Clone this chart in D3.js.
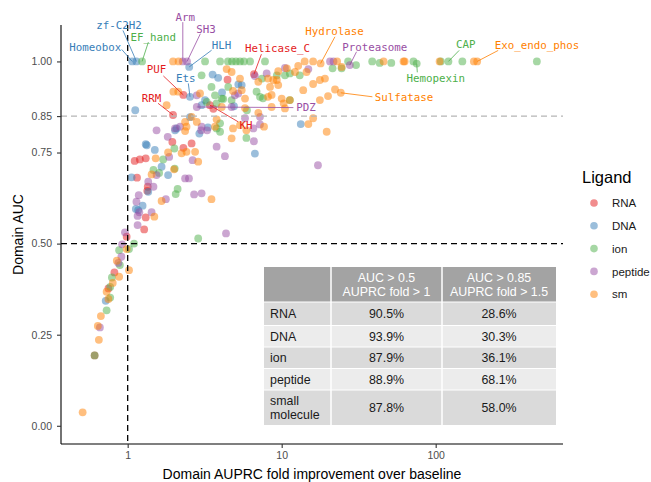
<!DOCTYPE html>
<html>
<head>
<meta charset="utf-8">
<script src="https://cdn.jsdelivr.net/npm/d3@7"></script>
<style>
  body { margin: 0; background: #fff; }
  svg { display: block; }
</style>
</head>
<body>
<svg id="chart" width="651" height="482"></svg>
<script>
// Ligand classes and their colours
const ligands = ["RNA", "DNA", "ion", "peptide", "sm"];
const ligandColors = ["#E41A1C", "#377EB8", "#4DAF4A", "#984EA3", "#FF7F00"];

// Each domain: [AUPRC fold improvement over baseline, domain AUC]
const rnaPoints = [
  [4.45, 0.95], [6.61, 0.965], [2.30, 0.908], [3.42, 0.88], [1.97, 0.853], [3.6, 0.87],
  [1.95, 0.779], [2.30, 0.763], [2.60, 0.775], [1.11, 0.727], [1.20, 0.731], [1.31, 0.734],
  [1.15, 0.681], [1.35, 0.656], [1.34, 0.645], [1.31, 0.572], [1.28, 0.539], [0.985, 0.519],
  [0.82, 0.421], [0.75, 0.377], [0.61, 0.193]
];
const dnaPoints = [
  [1.07, 1.0], [1.14, 1.0], [2.51, 0.985], [2.54, 0.903], [3.56, 0.964], [3.87, 0.955],
  [5.23, 0.937], [5.5, 0.935], [3.18, 0.894], [3.02, 0.880], [4.10, 0.915], [4.90, 0.877],
  [2.54, 0.847], [3.32, 0.819], [1.12, 0.866], [13.3, 0.828], [1.31, 0.773], [2.08, 0.816],
  [2.92, 0.802], [2.03, 0.811], [6.7, 0.747], [1.33, 0.770], [1.50, 0.757], [1.66, 0.711],
  [1.83, 0.688], [1.06, 0.682], [1.36, 0.642], [1.17, 0.592], [1.25, 0.604], [1.13, 0.595],
  [0.72, 0.343]
];
const ionPoints = [
  [1.24, 1.0], [3.18, 1.0], [3.98, 1.0], [4.48, 1.0], [4.76, 1.0], [5.05, 1.0], [5.36, 1.0],
  [5.69, 1.0], [6.23, 1.0], [7.79, 1.0], [27.0, 1.0], [30.4, 0.99], [21.4, 0.981], [24.5, 0.981],
  [38.7, 1.0], [43.3, 0.996], [51.5, 0.996], [71.7, 1.0], [75.3, 0.994], [108, 1.0], [121, 1.0],
  [149, 1.0], [454, 1.0], [11.3, 0.967], [10.5, 0.962], [9.3, 0.962], [13.1, 0.962], [7.45, 0.953],
  [3.02, 0.962], [3.50, 0.930], [4.50, 0.930], [4.17, 0.897], [4.73, 0.894], [3.26, 0.889],
  [3.78, 0.885], [4.08, 0.898], [6.87, 0.917], [7.23, 0.903], [7.56, 0.899], [11.3, 0.894],
  [5.95, 0.866], [3.98, 0.830], [3.98, 0.807], [5.9, 0.790], [2.01, 0.761], [1.70, 0.731],
  [1.47, 0.702], [1.60, 0.694], [2.02, 0.706], [2.11, 0.650], [2.05, 0.636], [2.87, 0.514],
  [1.10, 0.50], [1.02, 0.485], [0.88, 0.482], [0.89, 0.441], [0.79, 0.407], [0.77, 0.381],
  [0.77, 0.352], [0.73, 0.317], [0.61, 0.193], [3.69, 0.907], [3.78, 0.816]
];
const peptidePoints = [
  [2.28, 1.0], [2.43, 1.0], [20.6, 1.0], [21.7, 1.0], [27.7, 0.99], [10.5, 0.982], [14.9, 0.979],
  [6.7, 0.960], [7.99, 0.967], [2.81, 0.875], [2.81, 0.907], [4.97, 0.907], [5.22, 0.912],
  [4.73, 0.875], [5.78, 0.844], [7.23, 0.827], [7.23, 0.848], [3.02, 0.821], [2.03, 0.816],
  [1.54, 0.811], [1.82, 0.793], [2.19, 0.821], [3.0, 0.811], [3.28, 0.811], [6.6, 0.781],
  [3.78, 0.766], [4.28, 0.740], [2.64, 0.729], [1.86, 0.738], [1.54, 0.688], [1.36, 0.670],
  [1.47, 0.656], [2.36, 0.679], [2.50, 0.679], [2.70, 0.635], [3.02, 0.638], [1.77, 0.622],
  [1.18, 0.633], [1.14, 0.615], [1.19, 0.586], [1.43, 0.586], [1.16, 0.576], [1.16, 0.551],
  [4.35, 0.528], [17.2, 0.715], [0.96, 0.531], [0.92, 0.498], [0.91, 0.464], [0.87, 0.447],
  [0.66, 0.270], [6.55, 0.816]
];
const smPoints = [
  [1.97, 1.0], [2.14, 1.0], [14.1, 1.0], [16.0, 1.0], [22.9, 1.0], [24.5, 0.985], [45.9, 1.0],
  [61.8, 1.0], [62.9, 1.0], [106, 1.0], [177, 1.0], [186, 1.0], [17.9, 0.9945], [12.8, 0.988],
  [14.5, 0.971], [9.5, 0.973], [12.2, 0.971], [10.8, 0.981], [4.39, 0.979], [4.73, 0.971],
  [5.36, 0.953], [7.05, 0.944], [8.15, 0.953], [9.3, 0.949], [8.83, 0.949], [9.5, 0.935],
  [8.6, 0.908], [10.0, 0.898], [10.3, 0.885], [10.5, 0.871], [24.2, 0.914], [22.2, 0.923],
  [20.0, 0.905], [17.7, 0.894], [13.8, 0.921], [16.0, 0.938], [17.7, 0.949], [19.1, 0.953],
  [14.9, 0.828], [16.0, 0.844], [19.6, 0.807], [1.98, 0.917], [2.95, 0.912], [5.5, 0.921],
  [5.78, 0.898], [4.08, 0.875], [8.6, 0.875], [1.79, 0.880], [2.60, 0.848], [2.81, 0.834],
  [3.69, 0.821], [5.36, 0.825], [2.36, 0.834], [2.36, 0.809], [2.41, 0.821], [4.73, 0.789],
  [7.68, 0.821], [1.83, 0.750], [2.24, 0.748], [2.41, 0.752], [2.74, 0.752], [2.87, 0.725],
  [1.52, 0.734], [1.43, 0.690], [2.0, 0.704], [3.50, 0.622], [1.66, 0.617], [1.49, 0.574],
  [0.985, 0.485], [0.85, 0.453], [1.02, 0.427], [0.88, 0.409], [0.80, 0.392], [0.73, 0.368],
  [0.75, 0.348], [0.67, 0.301], [0.64, 0.274], [0.65, 0.236], [0.51, 0.037],
  [5.78, 0.872], [8.15, 0.903], [11.3, 0.894], [4.83, 0.919], [8.4, 0.930], [5.9, 0.811],
  [7.05, 0.859], [4.83, 0.816], [3.78, 0.841], [2.13, 0.917]
];
const seriesPoints = [rnaPoints, dnaPoints, ionPoints, peptidePoints, smPoints];

// Named domains: [name, ligand, fold, AUC]
const labelledDomains = [
  ["Homeobox", "DNA", 1.07, 1.0], ["zf-C2H2", "DNA", 1.14, 1.0], ["EF_hand", "ion", 1.24, 1.0],
  ["Arm", "peptide", 2.28, 1.0], ["SH3", "peptide", 2.43, 1.0], ["HLH", "DNA", 2.51, 0.985],
  ["Helicase_C", "RNA", 6.61, 0.965], ["PUF", "RNA", 2.30, 0.908], ["Ets", "DNA", 2.54, 0.903],
  ["RRM", "RNA", 1.97, 0.853], ["KH", "RNA", 3.42, 0.88], ["PDZ", "peptide", 2.81, 0.875],
  ["Hydrolase", "sm", 17.9, 0.9945], ["Proteasome", "peptide", 27.7, 0.99], ["CAP", "ion", 121, 1.0],
  ["Exo_endo_phos", "sm", 186, 1.0], ["Hemopexin", "ion", 75.3, 0.994], ["Sulfatase", "sm", 24.2, 0.914]
];

const xTicks = [1, 10, 100];
const yTicks = [0, 0.25, 0.5, 0.75, 0.85, 1];
const aucCutoffs = [0.5, 0.85];
const foldCutoff = 1;

const tableHeader = ["", "AUC > 0.5\nAUPRC fold > 1", "AUC > 0.85\nAUPRC fold > 1.5"];
const tableRows = [
  ["RNA", "90.5%", "28.6%"],
  ["DNA", "93.9%", "30.3%"],
  ["ion", "87.9%", "36.1%"],
  ["peptide", "88.9%", "68.1%"],
  ["small\nmolecule", "87.8%", "58.0%"]
];

// ---- layout ----
const svg = d3.select("#chart");
const panel = { left: 61, right: 563, top: 25, bottom: 444 };
const x = d3.scaleLog().domain([0.369, 671]).range([panel.left, panel.right]);
const y = d3.scaleLinear().domain([-0.05, 1.10]).range([panel.bottom, panel.top]);
const color = d3.scaleOrdinal().domain(ligands).range(ligandColors);
const sansFont = "'Liberation Sans', Arial, sans-serif";
const monoFont = "'DejaVu Sans Mono', monospace";

// Points
const pts = svg.append("g");
ligands.forEach((lig, i) => {
  pts.selectAll(null)
    .data(seriesPoints[i])
    .join("circle")
    .attr("cx", d => x(d[0]))
    .attr("cy", d => y(d[1]))
    .attr("r", 3.9)
    .attr("fill", color(lig))
    .attr("fill-opacity", 0.5);
});

// Reference lines
svg.append("line")
  .attr("x1", panel.left).attr("x2", panel.right)
  .attr("y1", y(aucCutoffs[1])).attr("y2", y(aucCutoffs[1]))
  .attr("stroke", "#b5b5b5").attr("stroke-width", 1.3).attr("stroke-dasharray", "6,4");
svg.append("line")
  .attr("x1", panel.left).attr("x2", panel.right)
  .attr("y1", y(aucCutoffs[0])).attr("y2", y(aucCutoffs[0]))
  .attr("stroke", "#000").attr("stroke-width", 1.3).attr("stroke-dasharray", "6,4");
svg.append("line")
  .attr("x1", x(foldCutoff)).attr("x2", x(foldCutoff))
  .attr("y1", panel.top).attr("y2", panel.bottom)
  .attr("stroke", "#000").attr("stroke-width", 1.3).attr("stroke-dasharray", "6,4");

// Repelled labels: text centre and segment end, relative to the point
const labelNudge = {
  "Homeobox": [-37, -14.5, -10.5, -12],
  "zf-C2H2": [-17.5, -36, -13.5, -31],
  "EF_hand": [11.3, -24.3, 6.3, -19.3],
  "Arm": [2.5, -44.3, 0, -39.3],
  "SH3": [19, -32.7, 13.3, -27.7],
  "HLH": [32.4, -21.7, 22.4, -16.7],
  "Helicase_C": [23.5, -25.7, 7.4, -20],
  "PUF": [-27, -26, -20, -19],
  "Ets": [-4.2, -18.4, -1.7, -13.4],
  "RRM": [-21.6, -16.7, -15, -11.7],
  "KH": [36, 20, 28.3, 16.7],
  "PDZ": [109.3, 0.6, 96.6, 0.6],
  "Hydrolase": [13.8, -32.6, 14.3, -26.6],
  "Proteasome": [25, -18.3, 6.7, -13.3],
  "CAP": [17.4, -17.7, 10.7, -11],
  "Exo_endo_phos": [59.7, -16, 21, -11],
  "Hemopexin": [19.1, 14.3, 0.6, 8.7],
  "Sulfatase": [63.3, 4.6, 31.6, 4]
};
const lab = svg.append("g");
labelledDomains.forEach(([name, lig, fx, fy]) => {
  const px = x(fx), py = y(fy);
  const [tx, ty, sx, sy] = labelNudge[name];
  lab.append("line")
    .attr("x1", px).attr("y1", py)
    .attr("x2", px + sx).attr("y2", py + sy)
    .attr("stroke", color(lig)).attr("stroke-width", 0.8);
  lab.append("text")
    .attr("x", px + tx).attr("y", py + ty)
    .attr("dy", "0.36em")
    .attr("text-anchor", "middle")
    .attr("font-family", monoFont)
    .attr("font-size", 10.8)
    .attr("fill", color(lig))
    .text(name);
});

// Axes
const yAxis = svg.append("g")
  .attr("transform", `translate(${panel.left},0)`)
  .call(d3.axisLeft(y).tickValues(yTicks).tickFormat(d3.format(".2f")).tickSize(4).tickSizeOuter(0).tickPadding(5));
const xAxis = svg.append("g")
  .attr("transform", `translate(0,${panel.bottom})`)
  .call(d3.axisBottom(x).tickValues(xTicks).tickFormat(d3.format("d")).tickSize(4).tickSizeOuter(0).tickPadding(4));
[xAxis, yAxis].forEach(ax => {
  ax.select(".domain").attr("stroke", "#000").attr("stroke-width", 1.1);
  ax.selectAll(".tick line").attr("stroke", "#333").attr("stroke-width", 1.1);
  ax.selectAll(".tick text").attr("fill", "#4d4d4d").attr("font-size", 10.5).attr("font-family", sansFont);
});
yAxis.select(".domain").attr("d", `M0,${panel.top}V${panel.bottom}`);
xAxis.select(".domain").attr("d", `M${panel.left},0H${panel.right}`);

svg.append("text")
  .attr("transform", `translate(18,${(panel.top + panel.bottom) / 2}) rotate(-90)`)
  .attr("text-anchor", "middle").attr("dy", "0.36em")
  .attr("font-family", sansFont).attr("font-size", 14).attr("fill", "#000")
  .text("Domain AUC");
svg.append("text")
  .attr("x", (panel.left + panel.right) / 2).attr("y", 474)
  .attr("text-anchor", "middle").attr("dy", "0.36em")
  .attr("font-family", sansFont).attr("font-size", 14).attr("fill", "#000")
  .text("Domain AUPRC fold improvement over baseline");

// Legend
const legend = svg.append("g").attr("transform", "translate(582,0)");
legend.append("text")
  .attr("x", 0).attr("y", 177).attr("dy", "0.36em")
  .attr("font-family", sansFont).attr("font-size", 16.5).attr("fill", "#000")
  .text("Ligand");
ligands.forEach((lig, i) => {
  const ly = 203 + i * 22.8;
  legend.append("circle")
    .attr("cx", 12).attr("cy", ly).attr("r", 3.8)
    .attr("fill", color(lig)).attr("fill-opacity", 0.5);
  legend.append("text")
    .attr("x", 30).attr("y", ly).attr("dy", "0.36em")
    .attr("font-family", sansFont).attr("font-size", 11.5).attr("fill", "#1a1a1a")
    .text(lig);
});

// Summary table
const colEdges = [264, 331, 442, 556];
const rowEdges = [267, 302, 325.5, 347, 368.5, 390, 425];
const rowFills = ["#a3a3a3", "#dadada", "#ececec", "#dadada", "#ececec", "#dadada"];
const table = svg.append("g");
const allRows = [tableHeader].concat(tableRows);
allRows.forEach((row, r) => {
  const y0 = rowEdges[r], y1 = rowEdges[r + 1];
  row.forEach((cell, c) => {
    const x0 = colEdges[c], x1 = colEdges[c + 1];
    table.append("rect")
      .attr("x", x0).attr("y", y0)
      .attr("width", x1 - x0).attr("height", y1 - y0)
      .attr("fill", rowFills[r]);
    const lines = cell.split("\n");
    const lh = 13.5;
    const cy = (y0 + y1) / 2 - (lines.length - 1) * lh / 2;
    const tx = c === 0 ? x0 + 6 : (x0 + x1) / 2;
    lines.forEach((ln, k) => {
      table.append("text")
        .attr("x", tx).attr("y", cy + k * lh).attr("dy", "0.36em")
        .attr("text-anchor", c === 0 ? "start" : "middle")
        .attr("font-family", sansFont).attr("font-size", 12.4)
        .attr("fill", r === 0 ? "#fff" : "#1a1a1a")
        .text(ln);
    });
  });
});
// white cell separators
colEdges.slice(1, -1).forEach(cx => {
  table.append("line").attr("x1", cx).attr("x2", cx)
    .attr("y1", rowEdges[0]).attr("y2", rowEdges[rowEdges.length - 1])
    .attr("stroke", "#fff").attr("stroke-width", 1.5);
});
rowEdges.slice(1, -1).forEach(ry => {
  table.append("line").attr("x1", colEdges[0]).attr("x2", colEdges[colEdges.length - 1])
    .attr("y1", ry).attr("y2", ry)
    .attr("stroke", "#fff").attr("stroke-width", 1);
});
</script>
</body>
</html>
